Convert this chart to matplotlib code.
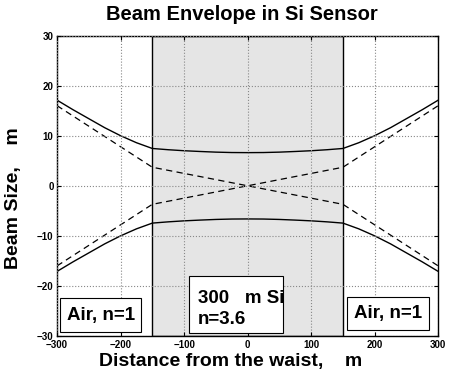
import matplotlib
matplotlib.use('Agg')
import matplotlib.pyplot as plt
from matplotlib.patches import Rectangle

plt.rcParams['font.family'] = ['Liberation Sans', 'DejaVu Sans']

# beam radius (um) vs distance from the waist (um)
z = [-300, -275, -250, -225, -200, -175, -150, -125, -100, -75, -50, -25, 0,
     25, 50, 75, 100, 125, 150, 175, 200, 225, 250, 275, 300]
w = [17.1, 15.2, 13.4, 11.6, 10.0, 8.6, 7.45, 7.2, 7.0, 6.85, 6.72, 6.64, 6.62,
     6.64, 6.72, 6.85, 7.0, 7.2, 7.45, 8.6, 10.0, 11.6, 13.4, 15.2, 17.1]

# geometric asymptotes (straight rays through the waist)
z_ray = [-300, -150, 150, 300]
ray = [16.0, 3.7, -3.7, -16.0]

# Si slab limits
si_left, si_right = -150, 150

fig = plt.figure(figsize=(4.49, 3.78), dpi=100)
ax = fig.add_axes([0.127, 0.111, 0.849, 0.795])

ax.add_patch(Rectangle((si_left, -30), si_right - si_left, 60,
                       facecolor='#e5e5e5', edgecolor='black', lw=1.0, zorder=0))

ax.plot(z, w, color='black', lw=1.0)
ax.plot(z, [-v for v in w], color='black', lw=1.0)
ax.plot(z_ray, ray, color='black', lw=0.9, dashes=(5, 3.5))
ax.plot(z_ray, [-v for v in ray], color='black', lw=0.9, dashes=(5, 3.5))

ax.set_xlim(-300, 300)
ax.set_ylim(-30, 30)
ax.set_xticks(range(-300, 301, 100))
ax.set_yticks(range(-30, 31, 10))
ax.grid(True, linestyle=':', color='#888888', lw=0.8)
ax.set_axisbelow(False)
ax.tick_params(direction='in', length=3, top=True, right=True, labelsize=7, pad=2.5)
for lab in ax.get_xticklabels() + ax.get_yticklabels():
    lab.set_fontweight('bold')
for s in ax.spines.values():
    s.set_linewidth(1.0)

ax.set_title('Beam Envelope in Si Sensor', fontsize=14.5, fontweight='bold',
             pad=11, x=0.485)
ax.set_xlabel('Distance from the waist,    m', fontsize=14, fontweight='bold')
ax.set_ylabel('Beam Size,    m', fontsize=14, fontweight='bold')
ax.xaxis.set_label_coords(0.455, -0.055)
ax.yaxis.set_label_coords(-0.093, 0.458)

# labelled regions
def label_box(x0, x1, y0, y1):
    ax.add_patch(Rectangle((x0, y0), x1 - x0, y1 - y0, facecolor='white',
                           edgecolor='black', lw=0.8, zorder=4))

label_box(-295, -168, -29.2, -22.5)
ax.text(-231, -25.8, 'Air, n=1', fontsize=13.5, fontweight='bold',
        ha='center', va='center', zorder=5)

label_box(157, 285, -28.8, -22.2)
ax.text(221, -25.5, 'Air, n=1', fontsize=13.5, fontweight='bold',
        ha='center', va='center', zorder=5)

label_box(-92, 56, -29.4, -18.1)
ax.text(-78, -22.5, '300   m Si', fontsize=13.5, fontweight='bold',
        ha='left', va='center', zorder=5)
ax.text(-78, -26.7, 'n=3.6', fontsize=13.5, fontweight='bold',
        ha='left', va='center', zorder=5)

fig.savefig('out.png', dpi=100)
